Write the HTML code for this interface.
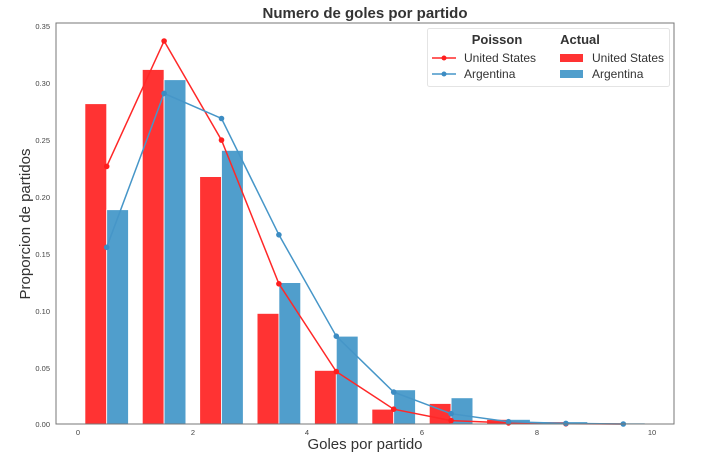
<!DOCTYPE html>
<html><head><meta charset="utf-8"><style>
html,body{margin:0;padding:0;background:#fff;}
svg{display:block;font-family:"Liberation Sans",Arial,sans-serif;}
</style></head><body>
<svg width="712" height="460" viewBox="0 0 712 460" xmlns="http://www.w3.org/2000/svg">
<rect width="712" height="460" fill="#fff"/>
<text x="365" y="18" font-size="15" font-weight="bold" fill="#333" text-anchor="middle">Numero de goles por partido</text>
<g font-size="7.5" fill="#444" text-anchor="end">
<text x="50" y="29">0.35</text><text x="50" y="86">0.30</text><text x="50" y="143">0.25</text>
<text x="50" y="200">0.20</text><text x="50" y="257">0.15</text><text x="50" y="314">0.10</text>
<text x="50" y="371">0.05</text><text x="50" y="427">0.00</text>
</g>
<g font-size="7.5" fill="#444" text-anchor="middle">
<text x="78" y="435">0</text><text x="193" y="435">2</text><text x="307" y="435">4</text>
<text x="422" y="435">6</text><text x="537" y="435">8</text><text x="652" y="435">10</text>
</g>
<text x="365" y="449" font-size="15" fill="#333" text-anchor="middle">Goles por partido</text>
<text transform="translate(30,224) rotate(-90)" font-size="15" fill="#333" text-anchor="middle">Proporcion de partidos</text>
<g fill="rgb(255,51,51)" stroke="#fff" stroke-width="0.8">
<rect x="84.9" y="103.7" width="21.8" height="320.3"/>
<rect x="142.3" y="69.5" width="21.8" height="354.5"/>
<rect x="199.7" y="176.6" width="21.8" height="247.4"/>
<rect x="257.1" y="313.4" width="21.8" height="110.6"/>
<rect x="314.5" y="370.4" width="21.8" height="53.6"/>
<rect x="371.9" y="409.2" width="21.8" height="14.8"/>
<rect x="429.3" y="403.5" width="21.8" height="20.5"/>
<rect x="486.7" y="419.4" width="21.8" height="4.6"/>
<rect x="544.1" y="421.7" width="21.8" height="2.3"/>
</g>
<g fill="rgb(80,158,204)" stroke="#fff" stroke-width="0.8">
<rect x="106.7" y="209.7" width="21.8" height="214.3"/>
<rect x="164.1" y="79.7" width="21.8" height="344.3"/>
<rect x="221.5" y="150.4" width="21.8" height="273.6"/>
<rect x="278.9" y="282.6" width="21.8" height="141.4"/>
<rect x="336.3" y="336.2" width="21.8" height="87.8"/>
<rect x="393.7" y="389.8" width="21.8" height="34.2"/>
<rect x="451.1" y="397.8" width="21.8" height="26.2"/>
<rect x="508.5" y="419.4" width="21.8" height="4.6"/>
<rect x="565.9" y="421.7" width="21.8" height="2.3"/>
<rect x="623.3" y="422.9" width="21.8" height="1.1"/>
</g>
<polyline fill="none" stroke="rgb(255,40,40)" stroke-width="1.5" points="106.7,166.4 164.1,41 221.5,140.1 278.9,283.8 336.3,371.6 393.7,409.2 451.1,420.6 508.5,422.9 565.9,423.8 623.3,424"/>
<g fill="rgb(255,30,30)">
<circle cx="106.7" cy="166.4" r="2.8"/><circle cx="164.1" cy="41" r="2.8"/><circle cx="221.5" cy="140.1" r="2.8"/>
<circle cx="278.9" cy="283.8" r="2.8"/><circle cx="336.3" cy="371.6" r="2.8"/><circle cx="393.7" cy="409.2" r="2.8"/>
<circle cx="451.1" cy="420.6" r="2.8"/><circle cx="508.5" cy="422.9" r="2.8"/><circle cx="565.9" cy="423.8" r="2.8"/>
</g>
<polyline fill="none" stroke="rgb(70,150,200)" stroke-width="1.5" points="106.7,247.3 164.1,93.4 221.5,118.5 278.9,234.8 336.3,336.2 393.7,392.1 451.1,413.7 508.5,421.7 565.9,423.4 623.3,424"/>
<g fill="rgb(60,140,195)">
<circle cx="106.7" cy="247.3" r="2.8"/><circle cx="164.1" cy="93.4" r="2.8"/><circle cx="221.5" cy="118.5" r="2.8"/>
<circle cx="278.9" cy="234.8" r="2.8"/><circle cx="336.3" cy="336.2" r="2.8"/><circle cx="393.7" cy="392.1" r="2.8"/>
<circle cx="451.1" cy="413.7" r="2.8"/><circle cx="508.5" cy="421.7" r="2.8"/><circle cx="565.9" cy="423.4" r="2.8"/>
<circle cx="623.3" cy="424" r="2.8"/>
</g>
<rect x="56" y="23" width="618" height="401" fill="none" stroke="#777" stroke-width="1"/>
<rect x="427.5" y="28.5" width="242" height="58" rx="2" fill="#fff" fill-opacity="0.85" stroke="#e4e4e4"/>
<text x="497" y="44" font-size="13" font-weight="bold" fill="#333" text-anchor="middle">Poisson</text>
<text x="580" y="44" font-size="13" font-weight="bold" fill="#333" text-anchor="middle">Actual</text>
<line x1="432" y1="58" x2="456" y2="58" stroke="rgb(255,40,40)" stroke-width="1.5"/>
<circle cx="444" cy="58" r="2.5" fill="rgb(255,30,30)"/>
<text x="464" y="62" font-size="12" fill="#333">United States</text>
<line x1="432" y1="74" x2="456" y2="74" stroke="rgb(70,150,200)" stroke-width="1.5"/>
<circle cx="444" cy="74" r="2.5" fill="rgb(60,140,195)"/>
<text x="464" y="78" font-size="12" fill="#333">Argentina</text>
<rect x="560" y="54" width="23" height="8" fill="rgb(255,51,51)"/>
<text x="592" y="62" font-size="12" fill="#333">United States</text>
<rect x="560" y="70" width="23" height="8" fill="rgb(80,158,204)"/>
<text x="592" y="78" font-size="12" fill="#333">Argentina</text>
</svg>
</body></html>
